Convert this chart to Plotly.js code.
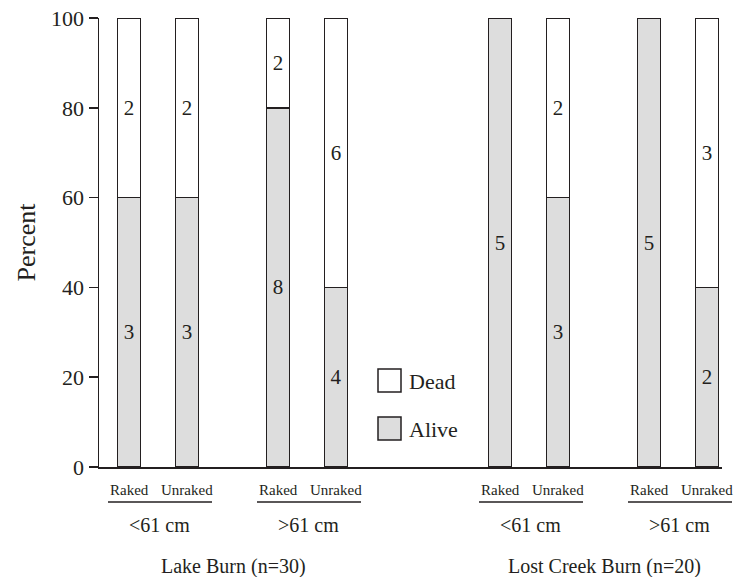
<!DOCTYPE html>
<html>
<head>
<meta charset="utf-8">
<script src="https://cdn.plot.ly/plotly-3.0.1.min.js"></script>
<style>html,body{margin:0;padding:0;background:#fff;}#chart{width:734px;height:577px;}</style>
</head>
<body>
<div id="chart"></div>
<script>
// ---- data ----
const burns = ['Lake Burn (n=30)', 'Lost Creek Burn (n=20)'];
const sizes = ['<61 cm', '>61 cm'];
const treatments = ['Raked', 'Unraked'];
const seriesNames = ['Dead', 'Alive'];
// bars in order: burn -> size -> treatment
const alivePct = [60, 60, 80, 40, 100, 60, 100, 40];
const deadPct  = [40, 40, 20, 60, 0, 40, 0, 60];
const aliveCounts = [3, 3, 8, 4, 5, 3, 5, 2];
const deadCounts  = [2, 2, 2, 6, 0, 2, 0, 3];
const yTicks = [0, 20, 40, 60, 80, 100];
const yTitle = 'Percent';

// ---- layout helpers (positions only) ----
const FONT = 'Liberation Serif, Times New Roman, serif';
const INK = '#231f20';
const ALIVE_FILL = '#dddddd';
const L = 99, T = 18, W = 623, H = 449; // plot area in px
const XR = [0, 623];
function barX(i) {
  const b = Math.floor(i / 4), s = Math.floor(i / 2) % 2, t = i % 2;
  return 30 + b * 371 + s * 149 + t * 58;
}
const xs = alivePct.map((_, i) => barX(i));
const px = X => (X - L) / W;          // page px -> paper x
const py = Y => (T + H - Y) / H;      // page px -> paper y
const xToPaper = x => (x - XR[0]) / (XR[1] - XR[0]);
const esc = s => s.replace(/</g, '&lt;').replace(/>/g, '&gt;');

const common = {
  type: 'bar', x: xs, width: 23,
  textposition: 'inside', insidetextanchor: 'middle', constraintext: 'none',
  textangle: 0, textfont: {family: FONT, size: 21, color: INK},
  hoverinfo: 'skip', showlegend: false, cliponaxis: false
};
const traces = [
  Object.assign({}, common, {
    name: seriesNames[1], y: alivePct,
    text: aliveCounts.map(c => c > 0 ? String(c) : ''),
    marker: {color: ALIVE_FILL, line: {color: INK, width: 1.5}}
  }),
  Object.assign({}, common, {
    name: seriesNames[0], y: deadPct,
    text: deadCounts.map(c => c > 0 ? String(c) : ''),
    marker: {color: '#ffffff', line: {color: INK, width: 1.5}}
  })
];

const annotations = [];
const shapes = [];
// treatment labels
xs.forEach((x, i) => {
  annotations.push({xref: 'x', yref: 'paper', x: x, y: py(490), text: treatments[i % 2],
    showarrow: false, xanchor: 'center', yanchor: 'middle',
    font: {family: FONT, size: 15, color: INK}});
});
// size labels + underlines
for (let p = 0; p < 4; p++) {
  const c = (xs[2 * p] + xs[2 * p + 1]) / 2;
  shapes.push({type: 'line', xref: 'paper', yref: 'paper',
    x0: xToPaper(c - 50), x1: xToPaper(c + 54), y0: py(502), y1: py(502),
    line: {color: INK, width: 1.5}});
  annotations.push({xref: 'x', yref: 'paper', x: c + 1, y: py(525), text: esc(sizes[p % 2]),
    showarrow: false, xanchor: 'center', yanchor: 'middle',
    font: {family: FONT, size: 20, color: INK}});
}
// burn labels
for (let b = 0; b < 2; b++) {
  const c = (xs[4 * b] + xs[4 * b + 3]) / 2;
  annotations.push({xref: 'x', yref: 'paper', x: c + 1, y: py(566), text: esc(burns[b]),
    showarrow: false, xanchor: 'center', yanchor: 'middle',
    font: {family: FONT, size: 20, color: INK}});
}
// legend (Dead above, Alive below)
const legendRows = [{name: seriesNames[0], fill: '#ffffff', top: 369}, {name: seriesNames[1], fill: ALIVE_FILL, top: 417}];
legendRows.forEach(r => {
  shapes.push({type: 'rect', xref: 'paper', yref: 'paper',
    x0: px(378), x1: px(401), y0: py(r.top), y1: py(r.top + 23),
    fillcolor: r.fill, line: {color: INK, width: 1.5}});
  annotations.push({xref: 'paper', yref: 'paper', x: px(407), y: py(r.top + 12), text: r.name,
    showarrow: false, xanchor: 'left', yanchor: 'middle',
    font: {family: FONT, size: 22, color: INK}});
});

const layout = {
  width: 734, height: 577,
  margin: {l: L, r: 734 - L - W, t: T, b: 577 - T - H, pad: 0},
  paper_bgcolor: '#ffffff', plot_bgcolor: '#ffffff',
  barmode: 'stack', showlegend: false,
  font: {family: FONT, color: INK},
  xaxis: {range: XR, showgrid: false, zeroline: false, showticklabels: false, ticks: '',
    showline: true, linecolor: INK, linewidth: 1.5, fixedrange: true},
  yaxis: {range: [0, 100], tickvals: yTicks, ticktext: yTicks.map(String),
    ticks: 'outside', ticklen: 9, tickwidth: 1.5, tickcolor: INK,
    showline: true, linecolor: INK, linewidth: 1.5, showgrid: false, zeroline: false,
    tickfont: {family: FONT, size: 22, color: INK},
    title: {text: yTitle, font: {family: FONT, size: 26, color: INK}, standoff: 8},
    automargin: false, fixedrange: true},
  annotations: annotations, shapes: shapes
};

Plotly.newPlot('chart', traces, layout, {displayModeBar: false, staticPlot: true});
</script>
</body>
</html>
